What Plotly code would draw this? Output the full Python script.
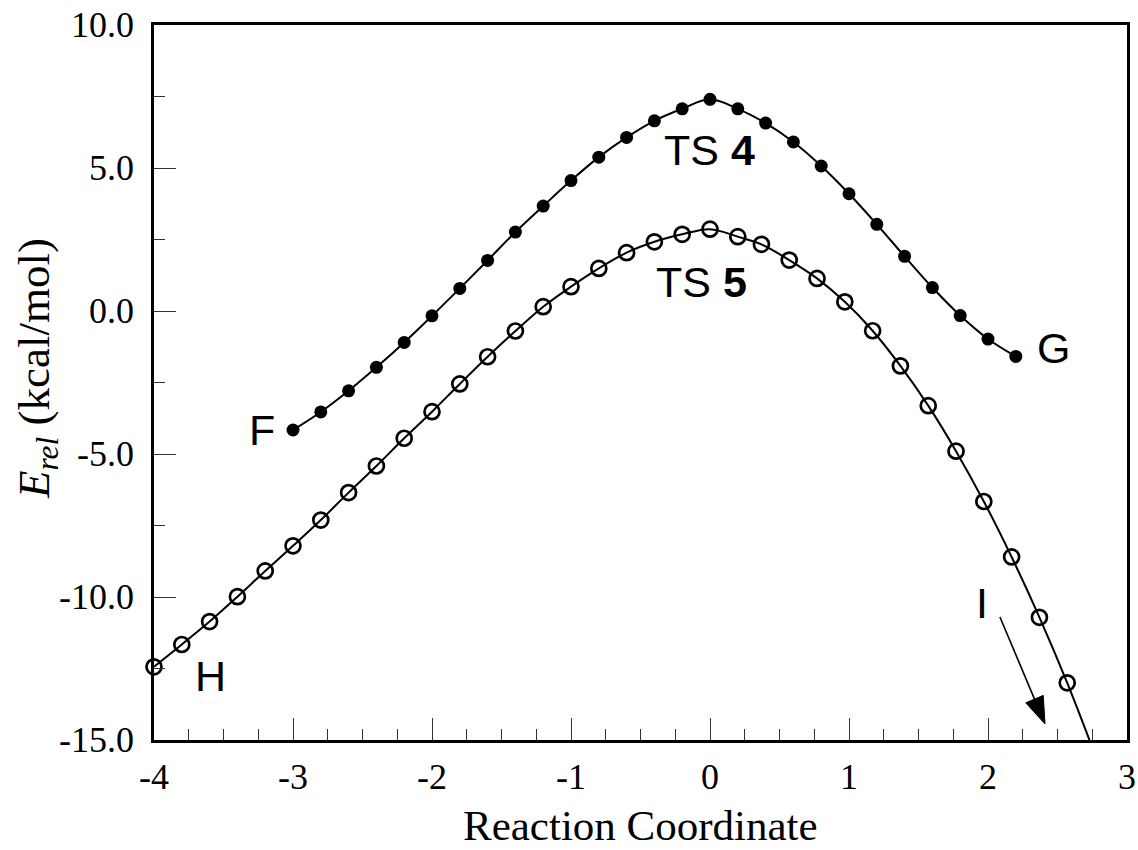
import math
import plotly.graph_objects as go

# ---- data: relative energy (kcal/mol) along the reaction coordinate ----
# TS 4 path (F -> G), filled markers
ts4_x = [-3.0, -2.8, -2.6, -2.4, -2.2, -2.0, -1.8, -1.6, -1.4, -1.2, -1.0, -0.8, -0.6, -0.4,
         -0.2, 0.0, 0.2, 0.4, 0.6, 0.8, 1.0, 1.2, 1.4, 1.6, 1.8, 2.0, 2.2]
ts4_e = [-4.16, -3.53, -2.79, -1.97, -1.10, -0.17, 0.79, 1.77, 2.76, 3.67, 4.56, 5.38, 6.07, 6.65,
         7.07, 7.40, 7.07, 6.57, 5.91, 5.07, 4.10, 3.03, 1.91, 0.82, -0.16, -0.98, -1.59]

# TS 5 path (H -> I), open markers
ts5_x = [-4.0, -3.8, -3.6, -3.4, -3.2, -3.0, -2.8, -2.6, -2.4, -2.2, -2.0, -1.8, -1.6, -1.4,
         -1.2, -1.0, -0.8, -0.6, -0.4, -0.2, 0.0, 0.2, 0.37, 0.57, 0.77, 0.97, 1.17, 1.37,
         1.57, 1.77, 1.97, 2.17, 2.37, 2.57]
ts5_e = [-12.44, -11.66, -10.86, -9.99, -9.09, -8.21, -7.31, -6.35, -5.42, -4.45, -3.52, -2.55,
         -1.60, -0.70, 0.15, 0.85, 1.49, 2.04, 2.42, 2.68, 2.86, 2.60, 2.33, 1.78, 1.14, 0.32,
         -0.69, -1.92, -3.31, -4.90, -6.66, -8.60, -10.71, -13.00]
# the TS 5 curve continues downhill past the last computed point
ts5_tail_x = [2.73]
ts5_tail_e = [-15.0]

x_tickvals = [-4, -3, -2, -1, 0, 1, 2, 3]
x_ticktext = ["-4", "-3", "-2", "-1", "0", "1", "2", "3"]
y_tickvals = [10, 5, 0, -5, -10, -15]
y_ticktext = ["10.0", "5.0", "0.0", "-5.0", "-10.0", "-15.0"]

# ---- geometry ----
W, H = 1138, 850
ML, MR, MT, MB = 154, 11, 25, 110
X_MIN, X_MAX = -4, 3
Y_MIN, Y_MAX = -15, 10
PW, PH = W - ML - MR, H - MT - MB

SERIF = "Liberation Serif, Times New Roman, serif"
SANS = "Liberation Sans, Arial, sans-serif"


def to_px(x, y):
    return (ML + (x - X_MIN) / (X_MAX - X_MIN) * PW,
            MT + (Y_MAX - y) / (Y_MAX - Y_MIN) * PH)


def to_data(px, py):
    return (X_MIN + (px - ML) / PW * (X_MAX - X_MIN),
            Y_MAX - (py - MT) / PH * (Y_MAX - Y_MIN))


fig = go.Figure()

fig.add_trace(go.Scatter(x=ts4_x, y=ts4_e, mode="lines",
                         line=dict(color="black", width=2, shape="spline"),
                         hoverinfo="skip", showlegend=False))
fig.add_trace(go.Scatter(x=ts4_x, y=ts4_e, mode="markers",
                         marker=dict(symbol="circle", size=13, color="black"),
                         cliponaxis=False, showlegend=False))

fig.add_trace(go.Scatter(x=ts5_x + ts5_tail_x, y=ts5_e + ts5_tail_e, mode="lines",
                         line=dict(color="black", width=2, shape="spline"),
                         hoverinfo="skip", showlegend=False))
fig.add_trace(go.Scatter(x=ts5_x, y=ts5_e, mode="markers",
                         marker=dict(symbol="circle-open", size=15, color="black",
                                     line=dict(width=2.7, color="black")),
                         cliponaxis=False, showlegend=False))

annotations = []

# ---- curve labels ----
label_font = dict(family=SANS, size=43, color="black")
labels = [
    ("TS <b>4</b>", -0.007, 5.49),
    ("TS <b>5</b>", -0.058, 0.87),
    ("F", -3.22, -4.30),
    ("G", 2.47, -1.42),
    ("H", -3.59, -12.90),
    ("I", 1.96, -10.35),
]
for text, lx, ly in labels:
    annotations.append(dict(x=lx, y=ly, xref="x", yref="y", text=text, showarrow=False,
                            xanchor="center", yanchor="middle", yshift=4, font=label_font))

# ---- tick labels (serif, plain hyphen minus) ----
tick_font = dict(family=SERIF, size=36, color="black")
for v, t in zip(x_tickvals, x_ticktext):
    annotations.append(dict(x=v, y=0, xref="x", yref="paper", text=t, showarrow=False,
                            xanchor="center", yanchor="middle", yshift=-37, font=tick_font))
for v, t in zip(y_tickvals, y_ticktext):
    annotations.append(dict(x=0, y=v, xref="paper", yref="y", text=t, showarrow=False,
                            xanchor="right", yanchor="middle", xshift=-18, font=tick_font))

# ---- axis titles ----
annotations.append(dict(x=0.5, y=0, xref="paper", yref="paper", text="Reaction Coordinate",
                        showarrow=False, xanchor="center", yanchor="middle", yshift=-85,
                        font=dict(family=SERIF, size=43, color="black")))
annotations.append(dict(x=(37 - ML) / PW, y=1 - (369 - MT) / PH, xref="paper", yref="paper",
                        text="<i>E<sub>rel</sub></i> (kcal/mol)", textangle=-90,
                        showarrow=False, xanchor="center", yanchor="middle",
                        font=dict(family=SERIF, size=45, color="black")))

# ---- arrow pointing from I down the TS 5 curve ----
tail = (2.086, -10.70)
tip = (2.41, -14.44)
tx, ty = to_px(*tail)
hx, hy = to_px(*tip)
dx, dy = hx - tx, hy - ty
n = math.hypot(dx, dy)
ux, uy = dx / n, dy / n
head_len, head_half = 27, 9.5
bx, by = hx - ux * head_len, hy - uy * head_len
p1 = to_data(bx - uy * head_half, by + ux * head_half)
p2 = to_data(bx + uy * head_half, by - ux * head_half)
base = to_data(bx, by)

shapes = [
    dict(type="line", xref="x", yref="y", x0=tail[0], y0=tail[1], x1=base[0], y1=base[1],
         line=dict(color="black", width=1.6)),
    dict(type="path", xref="x", yref="y",
         path=f"M {tip[0]},{tip[1]} L {p1[0]},{p1[1]} L {p2[0]},{p2[1]} Z",
         fillcolor="black", line=dict(color="black", width=1)),
]

fig.update_layout(
    width=W, height=H,
    margin=dict(l=ML, r=MR, t=MT, b=MB, pad=0),
    paper_bgcolor="white", plot_bgcolor="white",
    font=dict(family=SERIF, size=36, color="black"),
    showlegend=False,
    annotations=annotations,
    shapes=shapes,
    xaxis=dict(
        range=[X_MIN, X_MAX], showgrid=False, zeroline=False, automargin=False,
        showline=True, linecolor="black", linewidth=2.5, mirror=True,
        ticks="inside", ticklen=22, tickwidth=1.3, tickcolor="#333",
        tickvals=x_tickvals, showticklabels=False,
        minor=dict(ticks="inside", dtick=0.25, ticklen=11, tickwidth=1.3, tickcolor="#333",
                   showgrid=False),
    ),
    yaxis=dict(
        range=[Y_MIN, Y_MAX], showgrid=False, zeroline=False, automargin=False,
        showline=True, linecolor="black", linewidth=2.5, mirror=True,
        ticks="inside", ticklen=22, tickwidth=1.3, tickcolor="#333",
        tickvals=y_tickvals, showticklabels=False,
        minor=dict(ticks="inside", dtick=2.5, ticklen=11, tickwidth=1.3, tickcolor="#333",
                   showgrid=False),
    ),
)

fig.write_html("out.html")
